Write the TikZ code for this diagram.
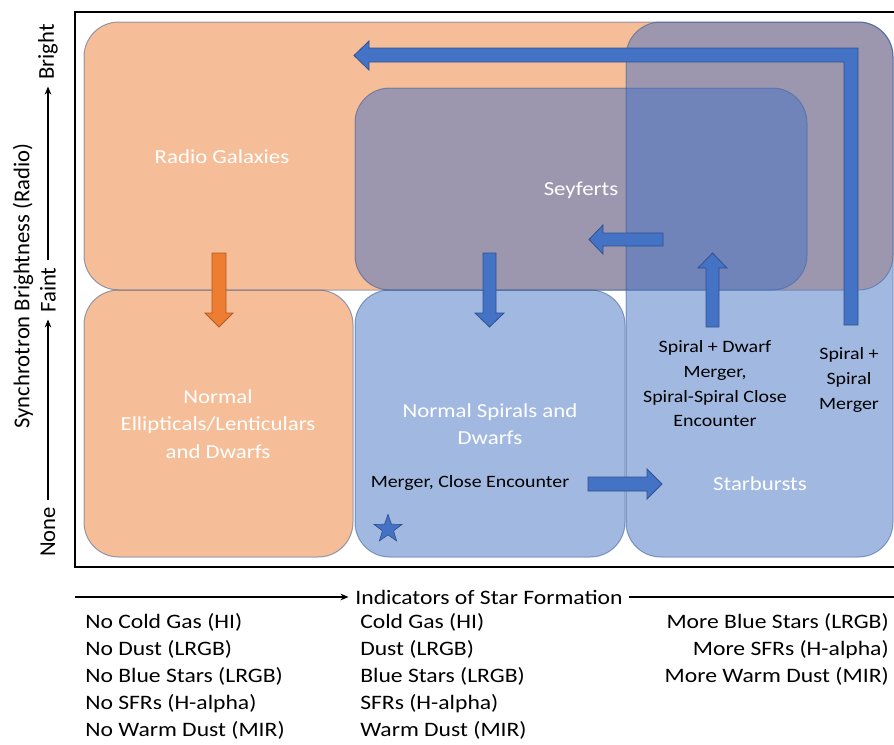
\documentclass[tikz,border=0pt]{standalone}
\usepackage{fontspec}
\setmainfont{Carlito}[FakeStretch=1.15]
\newfontfamily\vfont{Carlito}
\usetikzlibrary{shapes.geometric,arrows.meta}
\definecolor{acOrange}{HTML}{ED7D31}
\definecolor{acBlue}{HTML}{4472C4}
\definecolor{acLine}{HTML}{2F528F}
\definecolor{acOrLine}{HTML}{AE5A21}
\tikzset{
  region/.style={rounded corners=26pt, draw=acLine, line width=0.75pt, opacity=0.5},
  orangebox/.style={region, fill=acOrange},
  bluebox/.style={region, fill=acBlue},
  barrow/.style={fill=acBlue, draw=acLine, line width=0.6pt, line join=miter},
  oarrow/.style={fill=acOrange, draw=acOrLine, line width=0.6pt, line join=miter},
  wlabel/.style={text=white, font=\fontsize{14.9}{20.6}\selectfont, align=center, inner sep=0pt},
  blabel/.style={text=black, font=\fontsize{13}{18.5}\selectfont, align=center, inner sep=0pt},
  btext/.style={text=black, font=\fontsize{15.4}{20.25}\selectfont, inner sep=0pt},
  ytext/.style={text=black, font=\vfont\fontsize{17}{20}\selectfont, rotate=90, inner sep=5pt},
  axis/.style={line width=0.8pt, -{Stealth[length=6pt,width=5pt]}}
}
\begin{document}
\begin{tikzpicture}[x=0.75pt, y=-0.75pt]
\useasboundingbox (0,0) rectangle (894,744);
% frame
\draw[line width=0.8pt] (75,12) rectangle (910,567);
% regions
\path[orangebox] (84,22) rectangle (893,290);
\path[orangebox] (84,290) rectangle (353,557);
\path[bluebox] (355,88) rectangle (807,290);
\path[bluebox] (355,290) rectangle (625,557);
\path[bluebox] (626,22) rectangle (893,557);
% block arrows
\path[barrow] (844,325) -- (844,62) -- (369,62) -- (369,70) -- (354,55.5) -- (369,41) -- (369,48) -- (858,48) -- (858,325) -- cycle;
\path[barrow] (663,233) -- (603,233) -- (603,225) -- (589,239.5) -- (603,254) -- (603,246) -- (663,246) -- cycle;
\path[barrow] (483,253) -- (496,253) -- (496,313) -- (504,313) -- (489.5,327) -- (475,313) -- (483,313) -- cycle;
\path[oarrow] (212,253) -- (226,253) -- (226,313) -- (233,313) -- (219,327) -- (205,313) -- (212,313) -- cycle;
\path[barrow] (706,327) -- (706,268) -- (698,268) -- (712.5,253) -- (727,268) -- (719,268) -- (719,327) -- cycle;
\path[barrow] (588,477) -- (647,477) -- (647,469) -- (662,484) -- (647,499) -- (647,491) -- (588,491) -- cycle;
% star
\node[star, star points=5, star point ratio=2.5, fill=acBlue, draw=acLine, line width=0.5pt, minimum size=22pt, inner sep=0pt] (star) at (388,529) {};
% white labels
\node[wlabel] (rg) at (222,157) {Radio Galaxies};
\node[wlabel] (sey) at (581,190) {Seyferts};
\node[wlabel] (ne) at (218,424) {Normal\\Ellipticals/Lenticulars\\and Dwarfs};
\node[wlabel] (ns) at (490,424) {Normal Spirals and\\Dwarfs};
\node[wlabel] (sb) at (760,484) {Starbursts};
% black labels
\node[blabel] (mce) at (470,483) {Merger, Close Encounter};
\node[blabel] (sdm) at (715,384) {Spiral + Dwarf\\Merger,\\Spiral-Spiral Close\\Encounter};
\node[blabel] (ssm) at (849,380) {Spiral +\\Spiral\\Merger};
% y axis
\node[ytext] (none) at (48,532) {None};
\node[ytext] (faint) at (48,290) {Faint};
\node[ytext] (bright) at (48,52) {Bright};
\node[ytext, inner sep=0pt] (ylab) at (23,286) {Synchrotron Brightness (Radio)};
\draw[axis] (none.east) -- (faint.west);
\draw[axis] (faint.east) -- (bright.west);
% x axis
\coordinate (xstart) at (75,597);
\coordinate (xend) at (930,597);
\node[btext, inner sep=5pt] (ind) at (489,597) {Indicators of Star Formation};
\draw[axis] (xstart) -- (ind.west);
\draw[axis] (ind.east) -- (xend);
% bottom columns
\node[btext, align=left, anchor=west] (colA) at (85,676) {No Cold Gas (HI)\\No Dust (LRGB)\\No Blue Stars (LRGB)\\No SFRs (H-alpha)\\No Warm Dust (MIR)};
\node[btext, align=left, anchor=west] (colB) at (360,676) {Cold Gas (HI)\\Dust (LRGB)\\Blue Stars (LRGB)\\SFRs (H-alpha)\\Warm Dust (MIR)};
\node[btext, align=right, anchor=east] (colC) at (889,649) {More Blue Stars (LRGB)\\More SFRs (H-alpha)\\More Warm Dust (MIR)};
\end{tikzpicture}
\end{document}
